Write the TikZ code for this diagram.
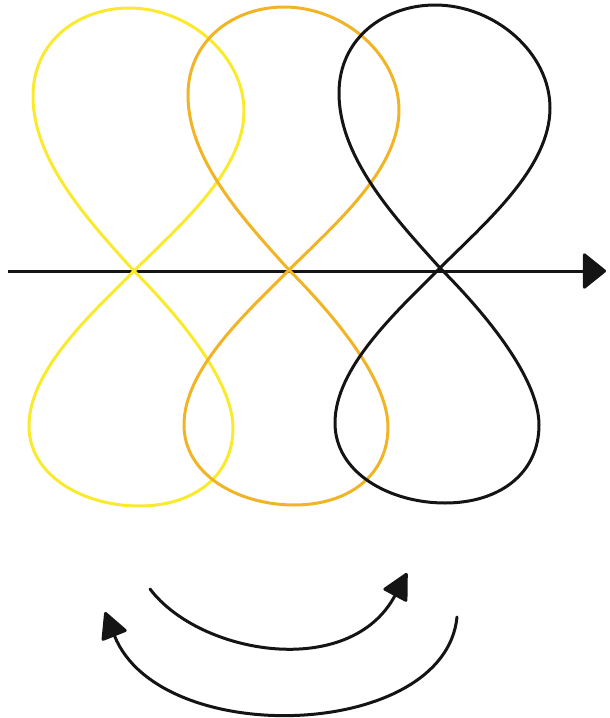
\documentclass[tikz,border=0pt]{standalone}
\usepackage{tikz}
\usetikzlibrary{arrows.meta,positioning}
\usepackage{xcolor}
\definecolor{loopyellow}{RGB}{250,234,45}
\definecolor{looporange}{RGB}{241,180,36}
\definecolor{loopblack}{RGB}{20,20,20}
\tikzset{
    loopline/.style={
        line width=3pt,
        line join=round
    },
    yellowloop/.style={
        loopline,
        draw=loopyellow
    },
    orangeloop/.style={
        loopline,
        draw=looporange
    },
    blackloop/.style={
        loopline,
        draw=loopblack
    },
    axisline/.style={
        line width=3pt,
        draw=loopblack,
        -{Triangle[length=24pt,width=38pt,round]}
    },
    turnarrow/.style={
        line width=3pt,
        draw=loopblack,
        line cap=round,
        -{Triangle[length=28pt,width=28pt,round]}
    },
    pics/figeight/.style={
        code={
            % upper loop, then lower loop
            \draw[#1] (0,0) .. controls (-45,-50) and (-101,-110) .. (-101,-175)
                .. controls (-101,-230) and (-55,-263) .. (-5,-263)
                .. controls (55,-263) and (110,-215) .. (110,-160)
                .. controls (110,-100) and (45,-45) .. (0,0)
                .. controls (-45,45) and (-105,100) .. (-105,155)
                .. controls (-105,205) and (-50,235) .. (5,235)
                .. controls (60,235) and (99,205) .. (99,157)
                .. controls (99,110) and (45,45) .. cycle;
        }
    }
}

\begin{document}
\begin{tikzpicture}[x=1pt,y=-1pt]
        \useasboundingbox (0,0) rectangle (610,718);

        % Horizontal axis
        \coordinate (axisstart) at (8,271);
        \coordinate (axisend) at (606,271);
        \draw[axisline] (axisstart) -- (axisend);

        % Figure-eight loops
        \pic at (134,271) {figeight=yellowloop};
        \pic at (289,270) {figeight=orangeloop};
        \pic at (440,268) {figeight=blackloop};

        % Turning arrows
        \coordinate (upstart) at (150,589);
        \coordinate (upend) at (407,573);
        \coordinate (lowstart) at (457,617);
        \coordinate (lowend) at (105,612);

        \draw[turnarrow] (upstart) .. controls (200,655) and (350,680) .. (upend);
        \draw[turnarrow] (lowstart) .. controls (445,740) and (160,750) .. (lowend);
    \end{tikzpicture}
\end{document}
